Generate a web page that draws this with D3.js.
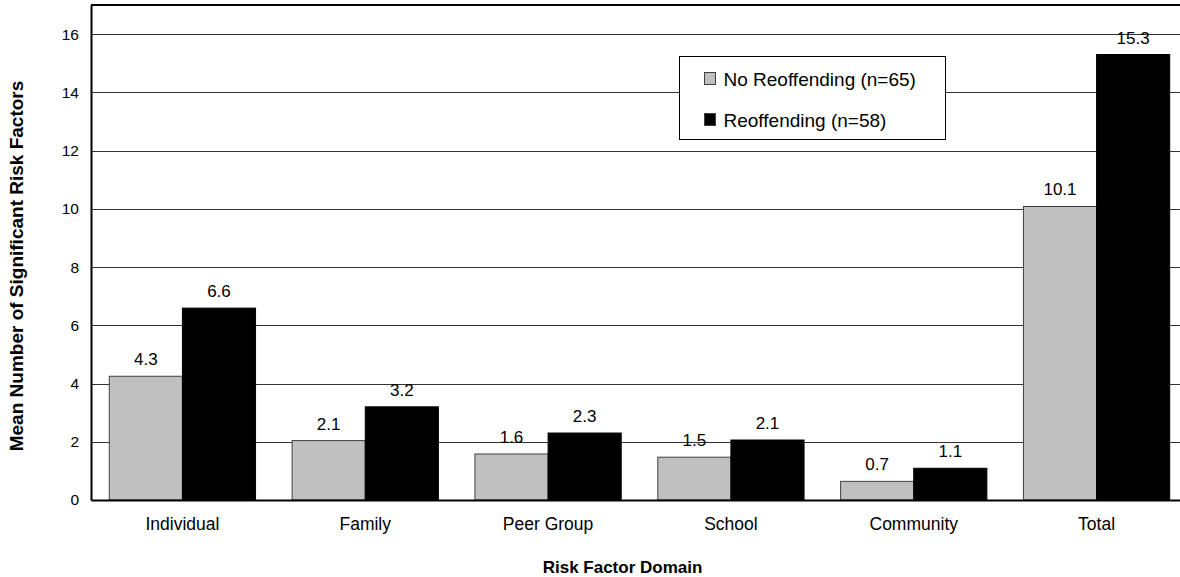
<!doctype html>
<html>
<head>
<meta charset="utf-8">
<title>Risk Factor Domain</title>
<script src="https://cdn.jsdelivr.net/npm/d3@7"></script>
<style>
  body { margin: 0; background: #fff; }
  text { font-family: "Liberation Sans", Arial, sans-serif; fill: #000; }
</style>
</head>
<body>
<script>

    var categories = ["Individual", "Family", "Peer Group", "School", "Community", "Total"];
    var seriesNames = ["No Reoffending (n=65)", "Reoffending (n=58)"];
    var noReoffending = [4.25, 2.04, 1.58, 1.47, 0.64, 10.08];
    var reoffending = [6.59, 3.2, 2.3, 2.06, 1.09, 15.3];
    var noLabels = ["4.3", "2.1", "1.6", "1.5", "0.7", "10.1"];
    var reLabels = ["6.6", "3.2", "2.3", "2.1", "1.1", "15.3"];
    var yTicks = [0, 2, 4, 6, 8, 10, 12, 14, 16];
    var colors = ["#c0c0c0", "#000000"];

    var width = 1180, height = 577;
    var plotLeft = 91, plotRight = 1188, plotTop = 5, plotBottom = 500;

    var svg = d3.select("body").append("svg")
        .attr("width", width)
        .attr("height", height);

    var x0 = d3.scaleBand()
        .domain(categories)
        .range([plotLeft, plotRight])
        .paddingInner(0.2)
        .paddingOuter(0.1);

    var x1 = d3.scaleBand()
        .domain([0, 1])
        .range([0, x0.bandwidth()]);

    var y = d3.scaleLinear()
        .domain([0, 17])
        .range([plotBottom, plotTop]);

    // gridlines
    svg.append("g").selectAll("line")
        .data(yTicks.filter(function(d) { return d > 0; }))
        .enter().append("line")
        .attr("x1", plotLeft)
        .attr("x2", plotRight)
        .attr("y1", function(d) { return Math.round(y(d)) + 0.5; })
        .attr("y2", function(d) { return Math.round(y(d)) + 0.5; })
        .attr("stroke", "#333")
        .attr("stroke-width", 1);

    // bars
    var series = [noReoffending, reoffending];
    var labels = [noLabels, reLabels];

    function rowData(d, i) {
        return [0, 1].map(function(s) { return {s: s, v: series[s][i], label: labels[s][i]}; });
    }

    var groups = svg.append("g").selectAll("g")
        .data(categories)
        .enter().append("g")
        .attr("transform", function(d) { return "translate(" + x0(d) + ",0)"; });

    groups.selectAll("rect")
        .data(rowData)
        .enter().append("rect")
        .attr("x", function(d) { return x1(d.s); })
        .attr("y", function(d) { return y(d.v); })
        .attr("width", x1.bandwidth())
        .attr("height", function(d) { return y(0) - y(d.v); })
        .attr("fill", function(d) { return colors[d.s]; })
        .attr("stroke", function(d) { return d.s === 0 ? "#404040" : "#000"; })
        .attr("stroke-width", 1);

    groups.selectAll("text")
        .data(rowData)
        .enter().append("text")
        .attr("x", function(d) { return x1(d.s) + x1.bandwidth() / 2; })
        .attr("y", function(d) { return y(d.v) - 11; })
        .attr("text-anchor", "middle")
        .attr("font-size", "17px")
        .text(function(d) { return d.label; });

    // frame
    svg.append("line")
        .attr("x1", plotLeft).attr("x2", plotRight)
        .attr("y1", plotTop).attr("y2", plotTop)
        .attr("stroke", "#000").attr("stroke-width", 2);

    svg.append("line")
        .attr("x1", plotRight).attr("x2", plotRight)
        .attr("y1", plotTop).attr("y2", plotBottom)
        .attr("stroke", "#000").attr("stroke-width", 2);

    // axes
    var yAxis = d3.axisLeft(y)
        .tickValues(yTicks)
        .tickSize(0)
        .tickPadding(12);

    var gy = svg.append("g")
        .attr("transform", "translate(" + plotLeft + ",0)")
        .call(yAxis);
    gy.select(".domain").attr("stroke", "#000").attr("stroke-width", 2);
    gy.selectAll("text").attr("font-size", "15.5px").attr("font-family", "Liberation Sans, Arial, sans-serif");

    var xAxis = d3.axisBottom(x0)
        .tickSize(0)
        .tickPadding(18);

    var gx = svg.append("g")
        .attr("transform", "translate(0," + plotBottom + ")")
        .call(xAxis);
    gx.select(".domain").attr("stroke", "#000").attr("stroke-width", 2);
    gx.selectAll("text").attr("font-size", "17.5px").attr("font-family", "Liberation Sans, Arial, sans-serif");

    // axis titles
    svg.append("text")
        .attr("x", (plotLeft + 1178) / 2 - 12)
        .attr("y", 573)
        .attr("text-anchor", "middle")
        .attr("font-size", "17px")
        .style("font-weight", "bold")
        .text("Risk Factor Domain");

    svg.append("text")
        .attr("transform", "translate(23,266) rotate(-90)")
        .attr("text-anchor", "middle")
        .attr("font-size", "19px")
        .style("font-weight", "bold")
        .text("Mean Number of Significant Risk Factors");

    // legend
    var legend = svg.append("g").attr("transform", "translate(679.5,56.5)");

    legend.append("rect")
        .attr("x", 0).attr("y", 0)
        .attr("width", 266).attr("height", 83)
        .attr("fill", "#fff")
        .attr("stroke", "#000")
        .attr("stroke-width", 1);

    var items = legend.selectAll("g.item")
        .data(seriesNames)
        .enter().append("g")
        .attr("class", "item")
        .attr("transform", function(d, i) { return "translate(25," + (16 + i * 41) + ")"; });

    items.append("rect")
        .attr("width", 11).attr("height", 12)
        .attr("fill", function(d, i) { return colors[i]; })
        .attr("stroke", "#404040");

    items.append("text")
        .attr("x", 19)
        .attr("y", 13)
        .attr("font-size", "19px")
        .text(function(d) { return d; });

</script>
</body>
</html>
